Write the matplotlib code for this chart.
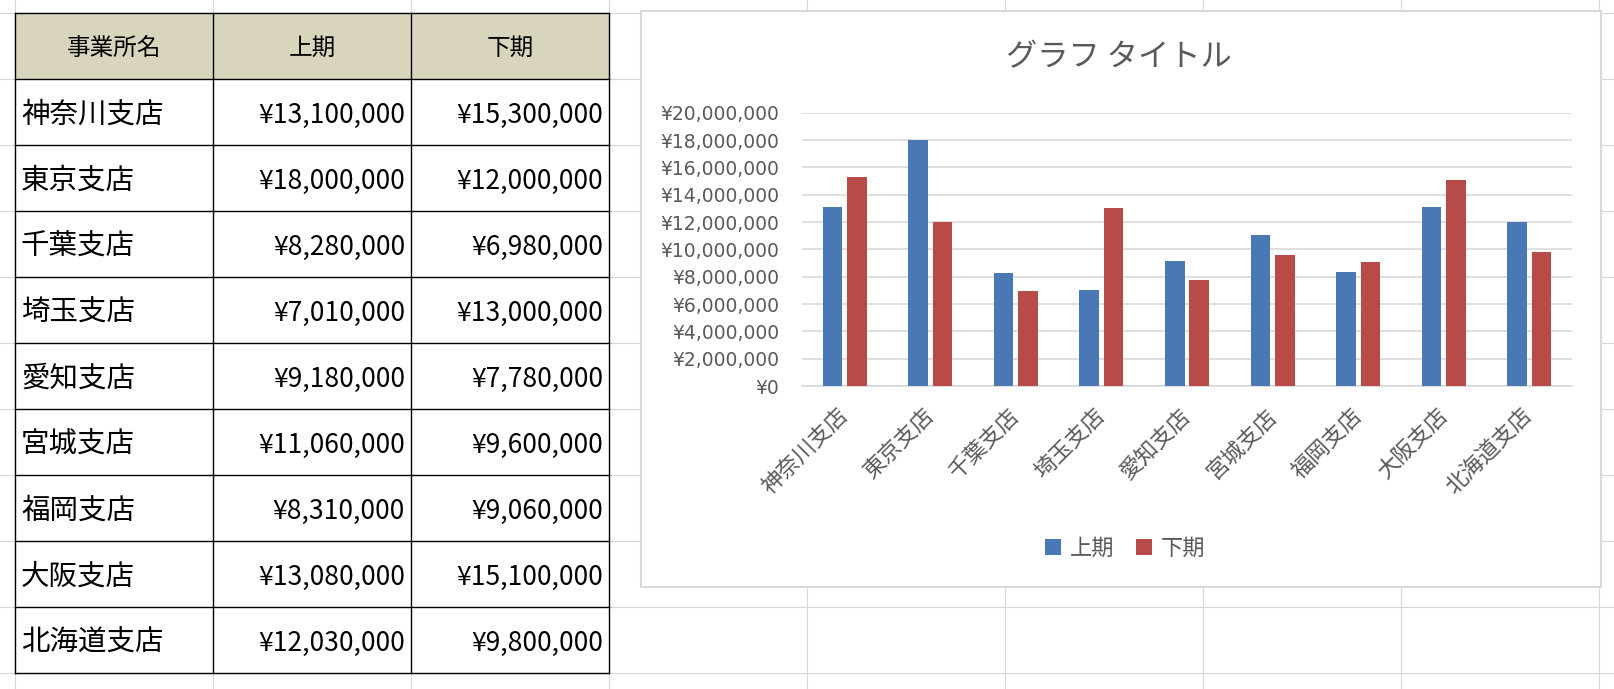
import matplotlib
matplotlib.use("Agg")
import matplotlib.pyplot as plt
from matplotlib.patches import Rectangle
from matplotlib.ticker import FuncFormatter, MultipleLocator

# ---------------- data ----------------
branches = ["神奈川支店", "東京支店", "千葉支店", "埼玉支店", "愛知支店",
            "宮城支店", "福岡支店", "大阪支店", "北海道支店"]
first_half = [13100000, 18000000, 8280000, 7010000, 9180000,
              11060000, 8310000, 13080000, 12030000]
second_half = [15300000, 12000000, 6980000, 13000000, 7780000,
               9600000, 9060000, 15100000, 9800000]
headers = ["事業所名", "上期", "下期"]
series_names = ["上期", "下期"]
chart_title = "グラフ タイトル"

# ---------------- styling ----------------
W, H = 1614, 689
DPI = 100
CJK = ["Noto Sans CJK JP", "DejaVu Sans"]
plt.rcParams["font.family"] = CJK
BLUE = "#4a78b5"
RED = "#b84a47"
TXT = "#595959"
GRID = "#d9d9d9"
SHEET = "#d6d6d6"

fig = plt.figure(figsize=(W / DPI, H / DPI), dpi=DPI)
fig.patch.set_facecolor("white")

# background axes in pixel coordinates (spreadsheet + table)
bg = fig.add_axes([0, 0, 1, 1])
bg.set_xlim(0, W)
bg.set_ylim(H, 0)
bg.axis("off")

col_x = [15, 213, 411, 609, 807, 1005, 1203, 1401, 1599]
row_h = 66
row_y = [13 + row_h * i for i in range(12)]
for x in col_x:
    bg.plot([x, x], [0, H], color=SHEET, lw=0.8, zorder=1)
for y in row_y:
    bg.plot([0, W], [y, y], color=SHEET, lw=0.8, zorder=1)

# table
tx = col_x[:4]
n_rows = len(branches) + 1
top = row_y[0]
bottom = row_y[n_rows]
bg.add_patch(Rectangle((tx[0], top), tx[3] - tx[0], row_h,
                       facecolor="#d9d5bd", edgecolor="none", zorder=2))
bg.add_patch(Rectangle((tx[0], top + row_h), tx[3] - tx[0], bottom - top - row_h,
                       facecolor="white", edgecolor="none", zorder=2))
for x in tx:
    bg.plot([x, x], [top, bottom], color="black", lw=1.0, zorder=3)
for i in range(n_rows + 1):
    y = row_y[i]
    bg.plot([tx[0], tx[3]], [y, y], color="black", lw=1.0, zorder=3)

for j, h in enumerate(headers):
    bg.text((tx[j] + tx[j + 1]) / 2, top + row_h / 2 + 2, h, ha="center",
            va="center", fontsize=17, color="black", family=CJK, zorder=4)

for i, (b, v1, v2) in enumerate(zip(branches, first_half, second_half)):
    yc = row_y[i + 1] + row_h / 2 + 3
    bg.text(tx[0] + 6, yc, b, ha="left", va="center", fontsize=20.5,
            color="black", family=CJK, zorder=4)
    bg.text(tx[2] - 6, yc, f"¥{v1:,}", ha="right", va="center", fontsize=19,
            color="black", family=CJK, zorder=4)
    bg.text(tx[3] - 6, yc, f"¥{v2:,}", ha="right", va="center", fontsize=19,
            color="black", family=CJK, zorder=4)

# chart frame
cx0, cy0, cx1, cy1 = 641, 11, 1601, 587
bg.add_patch(Rectangle((cx0, cy0), cx1 - cx0, cy1 - cy0, facecolor="white",
                       edgecolor=GRID, lw=1.5, zorder=5))

# chart title
fig.text(1119 / W, 1 - 57 / H, chart_title, ha="center", va="center",
         fontsize=22.5, color=TXT, family=CJK)

# plot area
px0, px1, py0, py1 = 802, 1572, 112.7, 386
ax = fig.add_axes([px0 / W, 1 - py1 / H, (px1 - px0) / W, (py1 - py0) / H])
ax.set_facecolor("none")

n = len(branches)
xs = list(range(n))
bw = 0.228
off = 0.143
b1 = ax.bar([x - off for x in xs], first_half, width=bw, color=BLUE,
            label=series_names[0], zorder=3)
b2 = ax.bar([x + off for x in xs], second_half, width=bw, color=RED,
            label=series_names[1], zorder=3)

ax.set_xlim(-0.5, n - 0.5)
ax.set_ylim(0, 20000000)
ax.yaxis.set_major_locator(MultipleLocator(2000000))
ax.yaxis.set_major_formatter(FuncFormatter(lambda v, p: f"¥{int(v):,}"))
ax.grid(axis="y", color=GRID, lw=1.2, zorder=0)
ax.set_axisbelow(True)
for s in ["top", "right", "left"]:
    ax.spines[s].set_visible(False)
ax.spines["bottom"].set_color(GRID)
ax.spines["bottom"].set_linewidth(1.2)

ax.tick_params(axis="y", length=0, pad=16.5, labelsize=13.5, labelcolor=TXT)
for lab in ax.get_yticklabels():
    lab.set_family(["DejaVu Sans"])

ax.set_xticks(xs)
ax.set_xticklabels(branches)
ax.tick_params(axis="x", length=0, pad=19, labelsize=16, labelcolor=TXT)
for lab in ax.get_xticklabels():
    lab.set_rotation(45)
    lab.set_ha("right")
    lab.set_va("center")
    lab.set_rotation_mode("anchor")
    lab.set_family(CJK)

fig.legend(handles=[b1, b2], labels=series_names, loc="center",
           bbox_to_anchor=(1125 / W, 1 - 548 / H), ncol=2, frameon=False,
           labelcolor=TXT, handlelength=0.7, handleheight=0.7,
           handletextpad=0.4, columnspacing=1.0, prop={"family": CJK, "size": 16})

fig.savefig("out.png", dpi=DPI, facecolor="white")
